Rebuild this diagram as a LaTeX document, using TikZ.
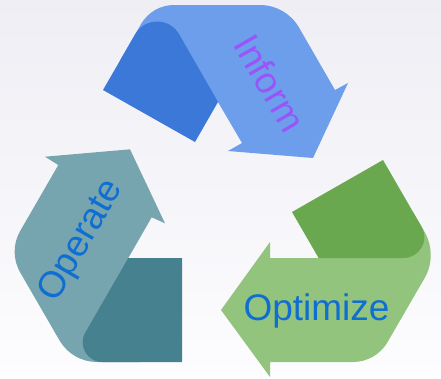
\documentclass[tikz,border=0pt]{standalone}
\usepackage{fontspec}
\setmainfont{Liberation Sans}
\usetikzlibrary{calc}
\definecolor{bluelight}{HTML}{6D9EEB}
\definecolor{bluedark}{HTML}{3C78D8}
\definecolor{greenlight}{HTML}{93C47D}
\definecolor{greendark}{HTML}{6AA84F}
\definecolor{teallight}{HTML}{76A5AF}
\definecolor{tealdark}{HTML}{45818E}
\definecolor{txtblue}{RGB}{15,110,210}
\definecolor{txtpurple}{RGB}{153,85,250}
\definecolor{bgtop}{RGB}{238,238,244}
\definecolor{bgbot}{RGB}{253,253,255}
% rounded corner at #2 between #1 and #3, tangent distance #4, control fraction #5
\newcommand\rcorner[5]{-- ($(#2)!#4pt!(#1)$) .. controls ($(#2)!{#5*#4pt}!(#1)$) and ($(#2)!{#5*#4pt}!(#3)$) .. ($(#2)!#4pt!(#3)$)}
\tikzset{lbl/.style={font=\fontsize{37}{40}\selectfont, inner sep=0pt}}
\begin{document}
\begin{tikzpicture}[x=1pt,y=-1pt]
\shade[top color=bgtop, bottom color=bgbot] (0,0) rectangle (441,378);
\useasboundingbox (0,0) rectangle (441,378);
% ---------- blue (Inform)
\coordinate (B1) at (103,90);
\coordinate (B2) at (195,142);
\coordinate (B3) at (218,102);
\coordinate (BA) at (157.2,-3.9);
\coordinate (BS) at (120,60.6);
\coordinate (BTL) at (152,5);
\coordinate (BTR) at (286,5);
\coordinate (BRE) at (335,90);
\coordinate (BBR) at (348,83);
\coordinate (BTip) at (313,158);
\coordinate (BBL) at (228,151);
\coordinate (BN) at (242,143);
\fill[bluelight] (BS) \rcorner{BS}{BTL}{BTR}{22}{0.381} \rcorner{BTL}{BTR}{BRE}{26}{0.381}
  -- (BRE) -- (BBR) -- (BTip) -- (BBL) -- (BN) -- (B3) -- cycle;
\fill[bluedark] (B2) -- (B1) \rcorner{B1}{BA}{B3}{44}{0.556} -- (B3) -- cycle;
% ---------- green (Optimize)
\coordinate (G1) at (292,212);
\coordinate (G2) at (383,160);
\coordinate (GA) at (439.6,258);
\coordinate (GL) at (318.6,258);
\coordinate (GS) at (413,212);
\coordinate (GO) at (438,255);
\coordinate (GBR) at (376,362);
\coordinate (GN2) at (270,362);
\coordinate (GB2) at (270,377);
\coordinate (GT) at (221,310);
\coordinate (GB1) at (270,242);
\coordinate (GN1) at (270,258);
\fill[greenlight] (GS) \rcorner{GS}{GO}{GBR}{27}{0.381} \rcorner{GO}{GBR}{GN2}{23}{0.381}
  -- (GN2) -- (GB2) -- (GT) -- (GB1) -- (GN1) -- (GL) -- cycle;
\fill[greendark] (G1) -- (G2) \rcorner{G2}{GA}{GL}{36}{0.556} -- (GL) -- cycle;
% ---------- teal (Operate)
\coordinate (TT) at (128.3,258);
\coordinate (TD2) at (182,258);
\coordinate (TD3) at (182,362);
\coordinate (TA) at (68.3,362);
\coordinate (TN2) at (151.7,217.3);
\coordinate (TB2) at (165,223.3);
\coordinate (TTip) at (130,149.3);
\coordinate (TB1) at (45,156.7);
\coordinate (TN1) at (58.3,165);
\coordinate (TC1) at (8.2,251.7);
\coordinate (TC2) at (72,362);
\coordinate (TBi) at (140,362);
\fill[teallight] (TN2) -- (TT) -- (TBi) \rcorner{TBi}{TC2}{TC1}{25}{0.381} \rcorner{TC2}{TC1}{TN1}{24}{0.381}
  -- (TN1) -- (TB1) -- (TTip) -- (TB2) -- cycle;
\fill[tealdark] (TT) -- (TD2) -- (TD3) \rcorner{TD3}{TA}{TT}{34}{0.556} -- cycle;
% ---------- labels
\node[lbl, text=txtpurple, rotate=-60] (inform) at (270,83) {Inform};
\node[lbl, text=txtblue, rotate=60] (operate) at (82,241) {Operate};
\node[lbl, text=txtblue] (optimize) at (316.5,311) {Optimize};
\end{tikzpicture}
\end{document}
